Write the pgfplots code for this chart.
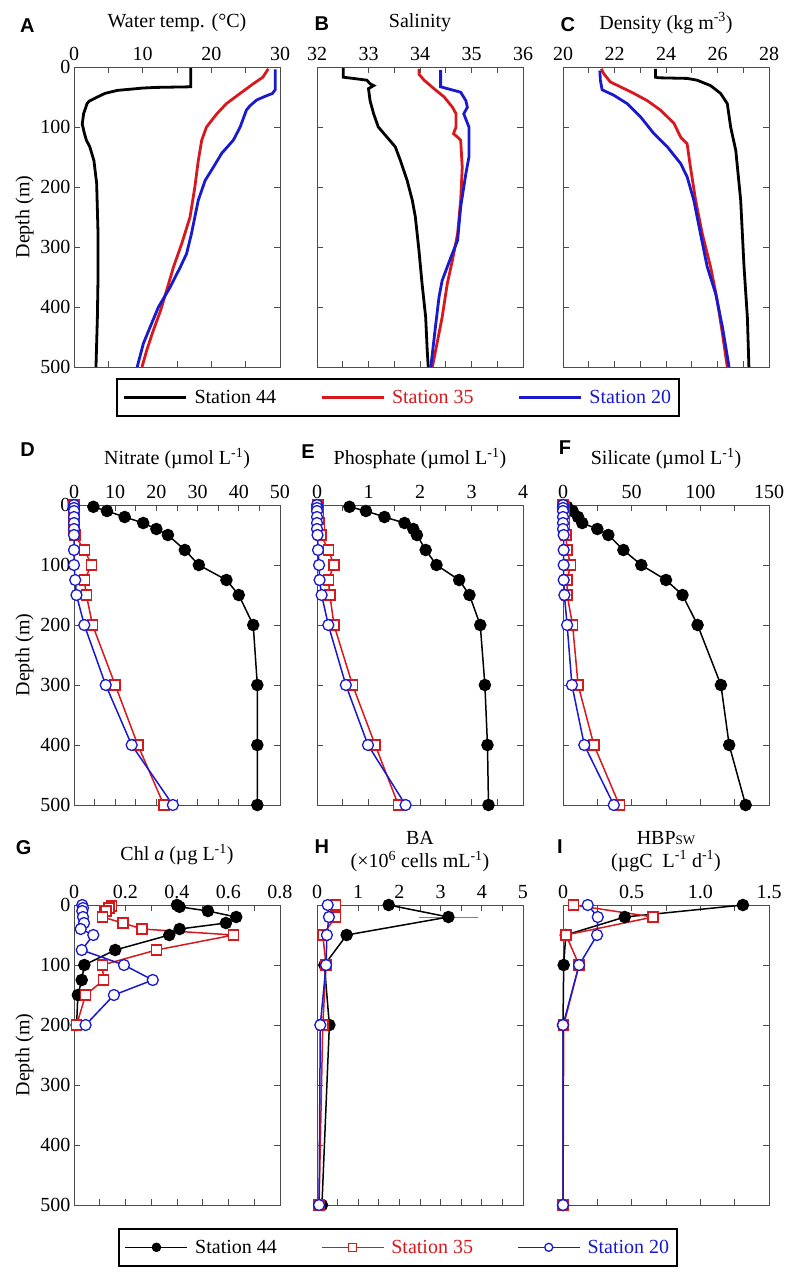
\documentclass[border=0pt]{standalone}
\usepackage{fontspec}
\setmainfont{Liberation Serif}
\newfontfamily\lettfont{Liberation Sans}
\usepackage{pgfplots}
\pgfplotsset{compat=1.18}
\definecolor{sred}{RGB}{215,25,30}
\definecolor{sblue}{RGB}{25,25,205}
\newcommand{\fs}{\rmfamily\fontsize{20}{23}\selectfont}
\newcommand{\lettr}{\lettfont\bfseries\fontsize{20}{23}\selectfont}
\pgfplotsset{
  panel/.style={scale only axis, width=206pt, height=300pt,
    y dir=reverse, ymin=0, ymax=500, ytick={0,100,200,300,400,500},
    xticklabel pos=upper, xtick pos=both, ytick pos=both,
    minor x tick num=1, tick align=inside,
    major tick length=6pt, minor tick length=6pt,
    axis line style={black!70,line width=0.8pt},
    every tick/.style={black!70,line width=0.8pt},
    clip=false, tick label style={font=\fs},
    /pgf/number format/assume math mode=true,
    xticklabel shift=3pt,
    title style={font=\fs, at={(0.5,1.127)}, anchor=center, align=center, yshift=0pt},
    label style={font=\fs},
    legend style={font=\fs, draw=black, line width=1.6pt, legend columns=3,
      inner ysep=9pt, inner xsep=6pt,
      /tikz/every even column/.append style={column sep=42pt},
      /tikz/every odd column/.append style={column sep=5pt}},
    legend cell align=left},
  noy/.style={yticklabels={}},
  ka/.style={black, line width=2.8pt},
  ra/.style={sred, line width=2.8pt},
  ba/.style={sblue, line width=2.8pt},
  kb/.style={black, line width=1.5pt, mark=*, mark size=5.5pt, mark options={solid, fill=black}},
  rb/.style={sred, line width=1.5pt, mark=square*, mark size=5pt, mark options={solid, fill=white, line width=1.5pt}},
  bb/.style={sblue, line width=1.5pt, mark=*, mark size=5.5pt, mark options={solid, fill=white, line width=1.3pt}},
}
\begin{document}
\begin{tikzpicture}
\useasboundingbox (0pt,0pt) rectangle (790pt,-1274pt);
% ---------------- Row 1 ----------------
\begin{axis}[panel, at={(74pt,-67pt)}, anchor=north west, xmin=0, xmax=30, xtick={0,10,20,30},
  title={Water temp. (°C)}, ylabel={Depth (m)}]
\node[font=\lettr] at (axis description cs:-0.227,1.137) {A};
\addplot[ka] coordinates {(17.0,2) (17.0,33) (12.0,34) (10.1,35) (6.3,39) (4.5,44) (3.4,50) (2.2,57) (1.9,61) (1.4,78) (1.2,95) (1.5,110) (1.8,122) (2.3,133) (2.9,156) (3.3,194) (3.5,278) (3.5,350) (3.4,420) (3.2,500)};
\addplot[ra] coordinates {(28.3,3) (27.9,10) (27.5,17) (26.1,28) (24.2,44) (22.2,61) (20.8,78) (19.3,100) (18.6,122) (18.1,156) (17.6,200) (16.9,250) (15.7,294) (14.5,333) (13.5,372) (12.6,406) (11.4,444) (10.6,472) (9.9,500)};
\addplot[ba] coordinates {(29.3,4) (29.3,38) (28.9,44) (27.8,49) (26.6,55) (25.6,65) (25.1,72) (24.2,100) (23.2,122) (21.5,144) (20.3,167) (19.1,189) (18.1,222) (17.1,278) (16.4,311) (15.5,333) (14.0,367) (12.3,400) (11.1,433) (10.1,461) (9.2,500)};
\end{axis}
\begin{axis}[panel, noy, at={(317pt,-67pt)}, anchor=north west, xmin=32, xmax=36, xtick={32,33,34,35,36},
  title={Salinity},
  legend style={at={(0.393,-0.037)}, anchor=north},
  legend image code/.code={\draw[#1] (0pt,0pt) -- (62pt,0pt);}]
\node[font=\lettr] at (axis description cs:0.024,1.144) {B};
\addplot[ka] coordinates {(32.51,2) (32.51,17) (32.70,19) (32.97,22) (33.03,28) (33.10,31) (33.00,36) (33.03,56) (33.10,78) (33.19,100) (33.36,117) (33.52,133) (33.62,156) (33.75,189) (33.85,222) (33.91,250) (33.98,306) (34.04,361) (34.11,417) (34.14,472) (34.16,500)};
\addlegendentry{Station 44}
\addplot[ra] coordinates {(33.98,3) (33.98,12) (34.08,22) (34.27,36) (34.47,50) (34.63,67) (34.70,78) (34.70,100) (34.65,111) (34.73,117) (34.79,122) (34.82,167) (34.79,222) (34.73,278) (34.63,322) (34.53,361) (34.43,417) (34.33,461) (34.24,500)};
\addlegendentry{\textcolor{sred}{Station 35}}
\addplot[ba] coordinates {(34.40,5) (34.40,33) (34.53,36) (34.79,42) (34.89,56) (34.92,67) (34.85,78) (34.95,100) (34.95,150) (34.89,178) (34.79,233) (34.73,289) (34.60,317) (34.43,356) (34.37,383) (34.30,433) (34.21,500)};
\addlegendentry{\textcolor{sblue}{Station 20}}
\end{axis}
\begin{axis}[panel, noy, at={(563pt,-67pt)}, anchor=north west, xmin=20, xmax=28, xtick={20,22,24,26,28},
  title={Density (kg m\textsuperscript{-3})}]
\node[font=\lettr] at (axis description cs:0.024,1.14) {C};
\addplot[ka] coordinates {(23.59,3) (23.59,17) (23.72,18) (24.82,19) (25.21,22) (25.73,31) (26.12,44) (26.38,61) (26.51,100) (26.71,139) (26.90,222) (27.03,333) (27.16,417) (27.22,500)};
\addplot[ra] coordinates {(21.49,3) (21.58,11) (21.84,25) (22.23,33) (22.75,44) (23.27,56) (23.79,72) (24.31,94) (24.57,117) (24.82,128) (24.95,167) (25.15,222) (25.41,278) (25.73,333) (25.99,389) (26.19,444) (26.38,500)};
\addplot[ba] coordinates {(21.43,6) (21.45,22) (21.52,38) (21.97,47) (22.49,61) (23.01,83) (23.53,111) (24.05,133) (24.57,161) (24.82,183) (25.08,222) (25.34,278) (25.60,333) (25.93,378) (26.19,433) (26.45,500)};
\end{axis}
% ---------------- Row 2 ----------------
\begin{axis}[panel, at={(74pt,-505pt)}, anchor=north west, xmin=0, xmax=50, xtick={0,10,20,30,40,50},
  title={Nitrate (µmol L\textsuperscript{-1})}, ylabel={Depth (m)}, title style={at={(0.5,1.135)}}]
\node[font=\lettr] at (axis description cs:-0.225,1.183) {D};
\addplot[kb] coordinates {(4.7,3) (8.0,10) (12.3,20) (16.8,30) (20.0,40) (22.8,50) (26.9,75) (30.3,100) (37.0,125) (40.0,150) (43.5,200) (44.5,300) (44.5,400) (44.5,500)};
\addplot[rb] coordinates {(0,0) (0,5) (0,10) (0,20) (0,30) (0,40) (0.2,50) (2.5,75) (4.3,100) (2.5,125) (3.0,150) (4.5,200) (10.0,300) (15.5,400) (21.8,500)};
\addplot[bb] coordinates {(0,0) (0,5) (0,10) (0,20) (0,30) (0,40) (0,50) (0,75) (0,100) (0.3,125) (0.6,150) (2.5,200) (7.7,300) (14.0,400) (24.0,500)};
\end{axis}
\begin{axis}[panel, noy, at={(317pt,-505pt)}, anchor=north west, xmin=0, xmax=4, xtick={0,1,2,3,4},
  title={Phosphate (µmol L\textsuperscript{-1})}, title style={at={(0.5,1.135)}}]
\node[font=\lettr] at (axis description cs:-0.044,1.177) {E};
\addplot[kb] coordinates {(0.63,3) (0.95,10) (1.31,20) (1.70,30) (1.87,40) (1.94,50) (2.11,75) (2.32,100) (2.76,125) (2.96,150) (3.17,200) (3.26,300) (3.31,400) (3.33,500)};
\addplot[rb] coordinates {(0.02,0) (0.02,5) (0.03,10) (0.03,20) (0.04,30) (0.05,40) (0.08,50) (0.22,75) (0.33,100) (0.22,125) (0.25,150) (0.33,200) (0.69,300) (1.13,400) (1.58,500)};
\addplot[bb] coordinates {(0,0) (0,5) (0,10) (0,20) (0,30) (0,40) (0.01,50) (0.02,75) (0.04,100) (0.05,125) (0.09,150) (0.22,200) (0.56,300) (0.99,400) (1.72,500)};
\end{axis}
\begin{axis}[panel, noy, at={(563pt,-505pt)}, anchor=north west, xmin=0, xmax=150, xtick={0,50,100,150},
  title={Silicate (µmol L\textsuperscript{-1})}, title style={at={(0.5,1.135)}}]
\node[font=\lettr] at (axis description cs:0.01,1.19) {F};
\addplot[kb] coordinates {(3,3) (7,10) (11,20) (14,30) (25,40) (33,50) (44,75) (57,100) (75,125) (87,150) (98,200) (115,300) (121,400) (133,500)};
\addplot[rb] coordinates {(0,0) (1,5) (1,10) (1,20) (1,30) (1,40) (2,50) (3,75) (5.5,100) (3,125) (3,150) (7,200) (11,300) (22.5,400) (41,500)};
\addplot[bb] coordinates {(0,0) (0,5) (0,10) (0,20) (0,30) (0,40) (0.5,50) (0.5,75) (0.5,100) (0.5,125) (1,150) (3,200) (6.5,300) (15.5,400) (37,500)};
\end{axis}
% ---------------- Row 3 ----------------
\begin{axis}[panel, at={(74pt,-905pt)}, anchor=north west, xmin=0, xmax=0.8, xtick={0,0.2,0.4,0.6,0.8},
  xticklabels={0,0.2,0.4,0.6,0.8},
  title={Chl \textit{a} (µg L\textsuperscript{-1})}, ylabel={Depth (m)}, title style={at={(0.5,1.148)}}]
\node[font=\lettr] at (axis description cs:-0.244,1.193) {G};
\addplot[kb] coordinates {(0.40,0) (0.41,3) (0.52,10) (0.63,20) (0.59,30) (0.41,40) (0.37,50) (0.16,75) (0.04,100) (0.03,125) (0.015,150) (0.01,200)};
\addplot[rb] coordinates {(0.145,2) (0.135,5) (0.125,10) (0.11,20) (0.19,30) (0.265,40) (0.62,50) (0.32,75) (0.11,100) (0.115,125) (0.045,150) (0.01,200)};
\addplot[bb] coordinates {(0.032,0) (0.035,5) (0.032,10) (0.035,20) (0.039,30) (0.026,40) (0.075,50) (0.03,75) (0.194,100) (0.306,125) (0.155,150) (0.045,200)};
\end{axis}
\begin{axis}[panel, noy, at={(317pt,-905pt)}, anchor=north west, xmin=0, xmax=5, xtick={0,1,2,3,4,5},
  title={BA\\(×10\textsuperscript{6} cells mL\textsuperscript{-1})}, title style={at={(0.5,1.158)}},
  legend style={at={(0.393,-0.077)}, anchor=north},
  legend image code/.code={\draw[mark repeat=2,mark phase=2,mark size=4pt,#1] plot coordinates {(0pt,0pt) (31pt,0pt) (62pt,0pt)};}]
\node[font=\lettr] at (axis description cs:0.024,1.193) {H};
\addplot[black!50, line width=1pt, mark=none, forget plot, error bars/.cd, x dir=both, x explicit,
  error bar style={black!50, line width=1pt}, error mark options={black!50, mark size=5pt, line width=1pt}]
  coordinates {(3.19,20) +- (0.59,0)};
\addplot[kb] coordinates {(1.74,0) (3.19,20) (0.72,50) (0.18,100) (0.30,200) (0.12,500)};
\addlegendentry{Station 44}
\addplot[rb] coordinates {(0.45,0) (0.45,20) (0.14,50) (0.22,100) (0.14,200) (0.05,500)};
\addlegendentry{\textcolor{sred}{Station 35}}
\addplot[bb] coordinates {(0.26,0) (0.29,20) (0.24,50) (0.22,100) (0.08,200) (0.05,500)};
\addlegendentry{\textcolor{sblue}{Station 20}}
\end{axis}
\begin{axis}[panel, noy, at={(563pt,-905pt)}, anchor=north west, xmin=0, xmax=1.5, xtick={0,0.5,1,1.5},
  xticklabels={0,0.5,1.0,1.5},
  title={HBP{\fontsize{13}{15}\selectfont SW}\\(µgC\enspace L\textsuperscript{-1} d\textsuperscript{-1})}, title style={at={(0.5,1.158)}}]
\node[font=\lettr] at (axis description cs:-0.015,1.193) {I};
\addplot[kb] coordinates {(1.31,0) (0.45,20) (0.02,50) (0.005,100) (0,200) (0,500)};
\addplot[rb] coordinates {(0.078,0) (0.657,20) (0.022,50) (0.117,100) (0.005,200) (0,500)};
\addplot[bb] coordinates {(0.18,0) (0.253,20) (0.248,50) (0.117,100) (0,200) (0,500)};
\end{axis}
\end{tikzpicture}
\end{document}
